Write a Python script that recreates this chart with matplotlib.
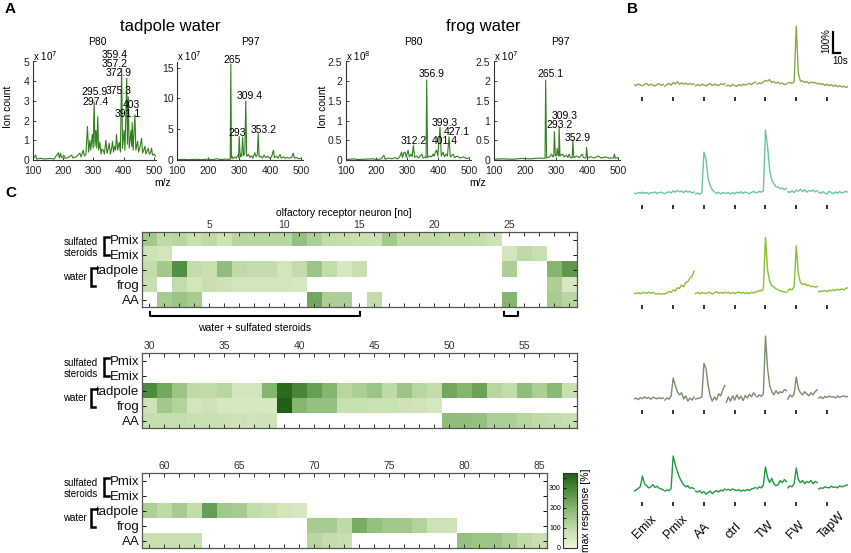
import numpy as np
import matplotlib
matplotlib.use("Agg")
import matplotlib.pyplot as plt
from matplotlib.colors import LinearSegmentedColormap
from matplotlib.lines import Line2D

plt.rcParams['font.family'] = ['Liberation Sans', 'DejaVu Sans']

# ---------------- Panel A data (mass spectra) ----------------
tp80_mz = [100,109,112,125,140,155,170,184,187,191,195,202,206,215,228,232,242,255,259,266,270,275,280,284,288,291,296,299,302,305,308,311,314,317,321,325,328,332,336,341,345,349,352,356,360,363,366,370,373,376,380,385,389,393,396,401,404,410,412,415,418,424,426,428,431,437,440,446,449,453,459,462,466,470,473,477,481,484,488,492,495,500,505]
tp80_int = [0.05,0.25,0.05,0.08,0.05,0.08,0.05,0.37,0.1,0.33,0.1,0.25,0.08,0.12,0.25,0.1,0.15,0.35,0.15,0.5,0.2,0.3,1.7,0.4,1.0,0.5,1.3,0.6,2.95,0.7,1.5,0.6,2.2,0.5,0.9,0.3,0.55,0.5,0.3,1.0,0.35,0.6,0.85,0.3,0.6,0.95,0.4,0.7,0.5,1.3,0.5,0.9,0.4,4.65,0.6,1.5,0.5,4.15,0.8,3.2,0.6,1.5,0.7,1.9,0.5,2.3,0.5,0.95,0.4,0.6,1.1,0.35,0.5,0.7,0.3,0.45,0.6,0.3,0.35,0.6,0.25,0.3,0.2]
tp80_labels = ["359.4", "357.2", "372.9", "375.3", "295.9", "297.4", "403", "391.1"]

tp97_mz = [100,120,140,160,180,200,215,228,240,255,271,273,275,277,280,286,290,296,298,300,303,306,308,311,314,318,321,324,330,334,340,344,350,354,358,361,364,370,374,380,385,392,398,404,410,413,420,425,431,435,442,448,455,462,468,474,477,485,492,500]
tp97_int = [0.05,0.1,0.05,0.12,0.05,0.15,0.05,0.2,0.08,0.15,0.1,15.6,0.3,0.6,0.2,0.5,0.3,0.8,0.4,3.8,0.5,1.0,0.6,3.7,0.7,1.2,9.6,0.6,0.9,0.4,0.7,0.3,1.2,0.5,0.8,4.3,0.5,0.6,0.3,0.8,0.4,0.6,0.3,0.5,1.6,0.4,0.6,0.3,0.9,0.3,0.5,0.3,0.4,0.3,0.4,1.1,0.3,0.4,0.2,0.3]
tp97_labels = ["265", "309.4", "293", "353.2"]

fr80_mz = [100,130,135,160,190,200,215,224,228,240,250,260,268,275,281,284,288,292,296,302,306,312,315,319,323,330,336,346,350,356,360,362,365,372,378,382,386,390,394,398,405,409,415,419,425,429,434,438,447,452,460,470,480,490,500]
fr80_int = [0.01,0.03,0.01,0.02,0.03,0.01,0.03,0.12,0.02,0.05,0.03,0.06,0.03,0.08,0.2,0.06,0.18,0.2,0.07,0.25,0.08,0.15,0.08,0.38,0.07,0.1,0.05,0.15,0.05,0.08,0.05,2.03,0.06,0.1,0.08,0.15,0.1,0.2,0.25,0.1,0.83,0.1,0.2,0.08,0.15,0.1,0.59,0.08,0.15,0.06,0.1,0.05,0.08,0.04,0.05]
fr80_labels = ["356.9", "399.3", "427.1", "401.4", "312.2"]

fr97_mz = [100,130,160,190,220,245,265,267,270,280,286,290,293,295,298,302,304,307,309,310,313,320,326,334,338,342,346,352,354,357,366,375,384,388,396,398,401,412,422,435,445,458,470,485,487,490,500]
fr97_int = [0.02,0.03,0.02,0.04,0.03,0.05,0.04,2.03,0.05,0.08,0.15,0.08,0.1,0.72,0.1,0.12,0.3,0.12,0.1,0.83,0.1,0.15,0.08,0.12,0.06,0.15,0.06,0.06,0.51,0.06,0.1,0.06,0.15,0.06,0.05,0.32,0.06,0.08,0.05,0.1,0.05,0.08,0.05,0.05,0.15,0.05,0.06]
fr97_labels = ["265.1", "309.3", "293.2", "352.9"]

mz_ticks = [100, 200, 300, 400, 500]
tp80_yticks = [0, 1, 2, 3, 4, 5]
tp97_yticks = [0, 5, 10, 15]
fr_yticks = [0, 0.5, 1, 1.5, 2, 2.5]
fr_yticklabels = ["0", "0.5", "1", "1.5", "2", "2.5"]

# ---------------- Panel B data (calcium traces, %) ----------------
stimuli = ["Emix", "Pmix", "AA", "ctrl", "TW", "FW", "TapW"]
trace1 = [
    [2,-3,5,0,-4,3,8,-2,4,0,-5,3,6,-1,2],
    [-6,2,8,-1,12,5,16,3,10,4,9,2,7,3,5],
    [-4,2,-3,4,0,-5,3,6,-2,4,1,-3,5,2,6],
    [-5,0,-7,3,-3,-6,2,-4,4,0,3,8,2,10,14],
    [4,10,6,14,22,18,26,12,16,8,14,6,9,2,5],
    [10,12,8,14,280,55,18,20,12,17,8,14,10,12,6],
    [8,3,6,-2,4,-4,2,-6,0,-8,-3,-10,-5,-12,-7]]
trace2 = [
    [0,-4,3,-2,4,-1,2,-5,3,0,5,-2,1,4,-1],
    [-3,2,6,0,10,4,12,6,9,2,11,4,8,0,5],
    [-5,0,-6,2,195,160,70,35,15,5,-2,3,-4,2,0],
    [-2,3,-5,2,-4,4,0,6,-2,5,1,-4,3,7,2],
    [2,8,4,10,300,220,110,60,45,30,28,20,24,16,22],
    [6,3,10,2,14,8,18,6,16,4,12,8,15,5,10],
    [4,-2,6,0,-4,8,2,-3,5,-1,7,0,4,8,3]]
trace3 = [
    [0,-3,2,-4,1,3,-2,4,-1,2,-3,-5,-2,-6,-4],
    [-5,0,8,3,15,10,25,22,38,30,50,55,70,80,105],
    [-2,3,-4,2,0,-3,4,1,-5,2,6,-1,3,-2,4],
    [0,4,-2,3,-4,2,5,-1,3,-3,1,-2,4,0,6],
    [5,12,10,18,265,110,55,35,28,20,15,10,8,5,3],
    [10,20,15,30,224,90,50,40,45,35,38,30,32,28,30],
    [5,10,8,12,6,14,10,16,12,18,14,20,15,22,25]]
trace4 = [
    [-5,0,-8,2,-3,5,-2,3,-6,4,0,-4,2,-3,0],
    [-10,0,-5,8,95,60,30,15,25,-5,10,-15,0,-10,5],
    [-5,-2,0,5,165,140,60,10,-15,5,-10,20,10,40,60],
    [-20,5,-15,10,-10,15,-5,8,-12,12,0,18,5,25,10],
    [5,15,8,20,295,140,60,30,15,35,20,30,25,40,35],
    [-5,15,5,20,100,45,25,15,30,20,10,25,15,30,40],
    [0,5,-3,8,2,10,4,6,0,9,3,7,10,5,8]]
trace5 = [
    [-5,0,8,15,67,30,20,10,15,25,12,18,8,5,0],
    [-5,0,-3,5,162,120,90,60,40,25,15,20,8,12,5],
    [-5,-10,-3,-15,-8,-20,-12,-5,-18,-8,-3,-10,0,-5,5],
    [0,3,-2,5,0,-3,2,-6,0,-4,3,-2,5,8,12],
    [5,15,10,25,110,60,35,55,30,20,25,45,35,50,40],
    [10,20,15,30,105,50,35,45,30,40,35,45,30,40,35],
    [5,10,8,15,12,10,18,12,15,10,20,15,18,22,25]]
traces = [trace1, trace2, trace3, trace4, trace5]
trace_colors = ["#8ca84c", "#6cc59b", "#86c232", "#7b8d6c", "#1c9a40"]

# ---------------- Panel C data (max response %, None = no response) ----------------
row_names = ["Pmix", "Emix", "tadpole", "frog", "AA"]
N = None
pmix_a = [150,100,110,80,100,70,110,110,110,110,170,130,90,85,80,75,150,100,100,100,90,90,85,70,N,N,N,N,N]
emix_a = [70,60,N,N,N,N,N,N,N,N,N,N,N,N,N,N,N,N,N,N,N,N,N,N,60,100,80,N,N]
tadpole_a = [90,150,280,90,80,180,100,90,90,60,90,160,90,50,80,N,N,N,N,N,N,N,N,N,130,N,N,200,260]
frog_a = [80,N,90,60,80,70,60,60,60,60,50,N,N,N,N,N,N,N,N,N,N,N,N,N,N,N,N,130,50]
aa_a = [N,140,160,140,N,N,N,N,N,N,N,230,130,130,N,90,N,N,N,N,N,N,N,N,200,N,N,140,110]

pmix_b = [N]*29
emix_b = [N]*29
tadpole_b = [290,230,160,100,95,110,60,60,200,350,300,250,200,110,130,160,100,160,110,90,230,200,240,110,90,180,130,190,80]
frog_b = [70,150,120,60,70,50,50,50,50,370,200,170,170,80,80,75,75,70,65,55,N,N,N,N,N,N,N,N,N]
aa_b = [85,85,85,80,80,75,70,65,70,N,N,N,N,N,N,N,N,N,N,N,180,180,170,130,130,110,100,90,80]

pmix_c = [N]*27
emix_c = [N]*27
tadpole_c = [130,100,140,90,250,150,140,90,80,60,50,N,N,N,N,N,N,N,N,N,N,N,N,N,N,N,N]
frog_c = [N,N,N,N,N,N,N,N,N,N,N,140,140,100,220,170,150,150,120,70,70,N,N,N,N,N,N]
aa_c = [80,80,80,80,N,N,N,N,N,N,N,110,90,80,N,N,N,N,N,N,N,170,160,160,130,100,80]

blocks = [((1, 29), [pmix_a, emix_a, tadpole_a, frog_a, aa_a]),
          ((30, 58), [pmix_b, emix_b, tadpole_b, frog_b, aa_b]),
          ((59, 85), [pmix_c, emix_c, tadpole_c, frog_c, aa_c])]
cbar_ticks = [0, 100, 200, 300]
vmax = 375

# ---------------- figure ----------------
W, H = 851, 553
fig = plt.figure(figsize=(W / 100, H / 100), dpi=100)


def box(x0, y0, x1, y1):
    return [x0 / W, 1 - y1 / H, (x1 - x0) / W, (y1 - y0) / H]


def fx(x):
    return x / W


def fy(y):
    return 1 - y / H


def ftext(x, y, s, **kw):
    fig.text(fx(x), fy(y), s, **kw)


def fline(xs, ys, **kw):
    fig.add_artist(Line2D([fx(v) for v in xs], [fy(v) for v in ys],
                          transform=fig.transFigure, **kw))


line_col = "#33801f"
spectra = [
    (tp80_mz, tp80_int, tp80_labels, (33, 155.5), (0, 5), tp80_yticks, None, "7",
     [(371, 5.33), (371, 4.87), (382, 4.4), (382, 3.52), (305, 3.44), (305, 2.96), (426, 2.79), (415, 2.33)]),
    (tp97_mz, tp97_int, tp97_labels, (177, 303), (0, 16), tp97_yticks, None, "7",
     [(276, 16.2), (335, 10.35), (294, 4.4), (377, 4.95)]),
    (fr80_mz, fr80_int, fr80_labels, (345.5, 471), (0, 2.5), fr_yticks, fr_yticklabels, "8",
     [(378, 2.19), (421, 0.93), (459, 0.72), (421, 0.49), (319, 0.49)]),
    (fr97_mz, fr97_int, fr97_labels, (493.5, 620), (0, 2.5), fr_yticks, fr_yticklabels, "7",
     [(281, 2.19), (327, 1.12), (310, 0.89), (371, 0.57)]),
]
for mz, inten, labels, (x0, x1), ylim, yt, ytl, expo, lpos in spectra:
    ax = fig.add_axes(box(x0, 61.5, x1, 160))
    ax.plot(mz, inten, color=line_col, lw=0.8)
    ax.set_xlim(100, 505)
    ax.set_ylim(*ylim)
    ax.set_xticks(mz_ticks)
    ax.set_yticks(yt)
    if ytl is not None:
        ax.set_yticklabels(ytl)
    for s in ["top", "right"]:
        ax.spines[s].set_visible(False)
    for s in ["left", "bottom"]:
        ax.spines[s].set_color("#333333")
        ax.spines[s].set_linewidth(0.8)
    ax.tick_params(direction="in", length=2, width=0.6, labelsize=7.5, colors="#222222")
    ax.tick_params(axis="x", pad=4)
    ax.tick_params(axis="y", pad=2.5)
    ax.text(0, 1.055, "x 10$^{%s}$" % expo, transform=ax.transAxes, fontsize=7,
            ha="left", va="center")
    for lab, (lx, ly) in zip(labels, lpos):
        ax.text(lx, ly, lab, fontsize=7.5, ha="center", va="center", clip_on=False)

ftext(170, 27, "tadpole water", fontsize=12, ha="center", va="center")
ftext(483, 27, "frog water", fontsize=12, ha="center", va="center")
for x, s in [(97, "P80"), (250, "P97"), (413, "P80"), (560, "P97")]:
    ftext(x, 42, s, fontsize=7.5, ha="center", va="center")
for x in [8, 323]:
    ftext(x, 107, "Ion count", fontsize=7.5, rotation=90, ha="center", va="center")
for x in [163, 478]:
    ftext(x, 183, "m/z", fontsize=7.5, ha="center", va="center")

# ---------------- Panel B ----------------
baselines = [85, 193, 293, 398, 490]
px_per_100 = 21.0
seg_step = 44
dt = 3
stim_t = 12
for tr, col, b in zip(traces, trace_colors, baselines):
    ax = fig.add_axes(box(634, b - 70, 848, b + 22))
    ax.set_xlim(0, 306)
    ax.set_ylim(-22 / px_per_100 * 100, 70 / px_per_100 * 100)
    ax.axis("off")
    for k, seg in enumerate(tr):
        t = k * seg_step + np.arange(len(seg)) * dt
        ax.plot(t, seg, color=col, lw=1.0)
        ax.plot([k * seg_step + stim_t], [-14 / px_per_100 * 100], marker="|", ms=3,
                mew=1.3, color="#222222")
    if b == baselines[0]:
        xs = (833 - 634) / 0.7
        y0 = (b - 53) / px_per_100 * 100
        ax.plot([xs, xs, xs + 10], [y0 + 100, y0, y0], color="black", lw=1.6,
                solid_joinstyle="miter", clip_on=False)
ftext(826, 41, "100%", fontsize=7, rotation=90, ha="center", va="center")
ftext(840, 61, "10s", fontsize=7, ha="center", va="center")
for k, s in enumerate(stimuli):
    mx = 634 + (k * seg_step + stim_t) * 0.7
    fig.text(fx(mx - 5), fy(539), s, fontsize=9, rotation=45, rotation_mode="anchor",
             ha="left", va="baseline")

# ---------------- Panel C ----------------
cmap = LinearSegmentedColormap.from_list(
    "resp", [(0, "#eef7db"), (100 / vmax, "#bfdaa6"), (200 / vmax, "#85b66f"),
             (300 / vmax, "#488737"), (1, "#1d5e14")])
cmap.set_bad("white")
tops = [232, 353, 473]
im = None
for ((c0, c1), rows), top in zip(blocks, tops):
    n = c1 - c0 + 1
    left = 141.5
    right = left + 15 * n
    ax = fig.add_axes(box(left, top, right, top + 75))
    arr = np.array(rows, dtype=float)
    im = ax.imshow(np.ma.masked_invalid(arr), cmap=cmap, vmin=0, vmax=vmax,
                   extent=(c0 - 0.5, c1 + 0.5, 4.5, -0.5), aspect="auto",
                   interpolation="nearest")
    ax.set_xlim(c0 - 0.5, c1 + 0.5)
    ax.set_ylim(4.5, -0.5)
    major = [c for c in range(c0, c1 + 1) if c % 5 == 0]
    ax.set_xticks(major)
    ax.set_xticklabels([str(c) for c in major])
    ax.set_xticks(range(c0, c1 + 1), minor=True)
    ax.tick_params(axis="x", which="both", top=True, bottom=True, labeltop=True,
                   labelbottom=False, direction="in", length=3, width=0.7,
                   labelsize=7.5, pad=1.5, colors="#333333")
    ax.set_yticks(range(5))
    ax.set_yticklabels(row_names)
    ax.tick_params(axis="y", left=True, right=True, direction="in", length=3,
                   width=0.7, labelsize=9.5, pad=1.5, colors="#111111")
    for s in ax.spines.values():
        s.set_color("#555555")
        s.set_linewidth(0.9)
    # group labels and brackets
    ftext(98, top + 10, "sulfated", fontsize=7, ha="right", va="center")
    ftext(98, top + 21, "steroids", fontsize=7, ha="right", va="center")
    fline([109, 104, 104, 109], [top + 5, top + 5, top + 23, top + 23], color="black",
          lw=1.8, solid_joinstyle="miter")
    ftext(87, top + 45, "water", fontsize=7, ha="right", va="center")
    fline([97, 91, 91, 95], [top + 36, top + 36, top + 54, top + 54], color="black",
          lw=1.8, solid_joinstyle="miter")

ftext(344, 213, "olfactory receptor neuron [no]", fontsize=7.5, ha="center", va="center")
fline([150, 150, 360, 360], [312, 316, 316, 312], color="black", lw=1.5)
fline([503.5, 503.5, 517.5, 517.5], [312, 316, 316, 312], color="black", lw=1.5)
ftext(255, 328, "water + sulfated steroids", fontsize=7.5, ha="center", va="center")

cax = fig.add_axes(box(563, 473, 577, 548))
cb = fig.colorbar(im, cax=cax, ticks=cbar_ticks)
cax.yaxis.set_ticks_position("left")
cax.yaxis.set_label_position("right")
cax.tick_params(labelsize=5, length=2.5, width=0.6, direction="in", pad=1.5)
cax.set_yticks([50, 150, 250, 350], minor=True)
cax.tick_params(which="minor", length=2, width=0.6, direction="in", left=True)
cb.outline.set_edgecolor("#333333")
cb.outline.set_linewidth(0.8)
ftext(586, 510, "max response [%]", fontsize=7.5, rotation=90, ha="center", va="center")

# panel letters
ftext(5, 9, "A", fontsize=11, fontweight="bold", ha="left", va="center")
ftext(627, 9, "B", fontsize=11, fontweight="bold", ha="left", va="center")
ftext(5, 193, "C", fontsize=11, fontweight="bold", ha="left", va="center")

fig.savefig("out.png", dpi=100)
